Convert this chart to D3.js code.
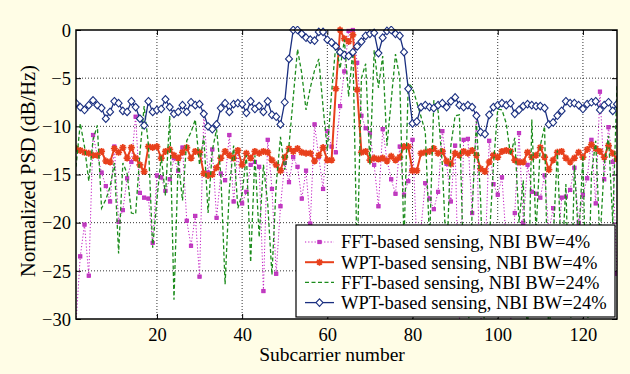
<!DOCTYPE html>
<html>
<head>
<meta charset="utf-8">
<script src="https://cdn.jsdelivr.net/npm/d3@7.9.0/dist/d3.min.js"></script>
<style>
  body { margin: 0; background: #fffde6; }
  svg text { font-family: "Liberation Serif", "Times New Roman", serif; fill: #000; }
</style>
</head>
<body>
<svg id="chart" width="630" height="374"></svg>
<script>
const subcarriers = d3.range(1, 129);
const xTicks = [20, 40, 60, 80, 100, 120];
const yTicks = [0, -5, -10, -15, -20, -25, -30];
const legendLabels = [
  'FFT-based sensing, NBI BW=4%',
  'WPT-based sensing, NBI BW=4%',
  'FFT-based sensing, NBI BW=24%',
  'WPT-based sensing, NBI BW=24%'
];

// FFT-based, NBI BW=4%
const fft4 = [
  -30.5, -23.5, -20.2, -25.5, -10.9, -13.0, -14.8, -16.2, -17.8, -12.1,
  -19.9, -18.7, -15.4, -13.7, -9.0, -16.9, -17.4, -17.5, -22.1, -15.1,
  -15.3, -16.7, -15.5, -13.3, -14.6, -12.2, -19.8, -22.4, -19.3, -25.6,
  -8.7, -14.8, -12.4, -19.5, -14.9, -15.6, -10.9, -17.8, -12.5, -18.0,
  -16.8, -14.0, -13.7, -14.2, -27.1, -11.4, -16.5, -25.3, -18.3, -13.8,
  -15.8, -13.2, -14.2, -17.5, -14.6, -20.1, -9.8, -13.2, -16.5, -10.5,
  -12.1, -12.7, -7.9, -4.3, -0.1, 0, -3.4, -8.9, -10.2, -10.7,
  -14.0, -18.3, -10.3, -13.5, -15.5, -17.0, -12.1, -17.1, -15.7, -11.4,
  -22.0, -20.5, -15.9, -17.5, -18.6, -16.8, -10.5, -13.9, -17.8, -12.0,
  -31.0, -11.4, -11.3, -19.0, -8.8, -31.0, -24.0, -11.5, -16.0, -17.1,
  -15.3, -22.0, -31.0, -19.0, -10.7, -20.0, -14.0, -16.8, -17.0, -17.4,
  -15.1, -21.0, -18.5, -24.0, -17.4, -17.3, -16.6, -14.3, -20.0, -17.1,
  -15.4, -11.4, -18.0, -6.4, -15.5, -10.1, -13.7, -25.3
];

// WPT-based, NBI BW=4%
const wpt4 = [
  -12.3, -12.5, -12.7, -12.8, -13.0, -13.0, -12.6, -13.6, -13.7, -12.3,
  -12.7, -12.2, -13.3, -12.2, -13.3, -14.0, -14.7, -12.1, -12.2, -12.1,
  -13.3, -12.6, -12.4, -13.0, -13.3, -12.7, -12.2, -13.3, -12.6, -12.7,
  -14.9, -15.1, -15.0, -14.3, -13.3, -12.6, -13.0, -13.3, -12.5, -14.0,
  -12.8, -13.3, -12.6, -12.8, -12.6, -12.7, -13.5, -14.0, -14.6, -13.2,
  -12.3, -12.6, -12.3, -12.7, -12.8, -12.8, -13.6, -13.0, -12.2, -13.5,
  -13.5, -6.1, 0, -0.9, -1.2, -0.5, -6.2, -12.7, -12.6, -13.5,
  -13.3, -13.4, -13.3, -13.6, -13.1, -13.5, -13.2, -12.1, -12.1, -14.6,
  -14.6, -12.8, -12.7, -12.6, -12.3, -12.8, -12.6, -13.6, -13.9, -12.8,
  -13.0, -12.6, -12.8, -12.5, -13.0, -14.4, -14.7, -13.7, -13.0, -13.2,
  -12.6, -12.5, -12.6, -13.5, -13.7, -13.7, -12.7, -13.2, -13.0, -12.2,
  -13.2, -14.5, -13.5, -12.7, -12.6, -13.3, -13.7, -13.3, -12.7, -13.2,
  -12.4, -11.9, -12.3, -12.6, -13.2, -12.0, -12.8, -13.4
];

// FFT-based, NBI BW=24%
const fft24 = [
  -14.2, -9.7, -12.1, -15.7, -11.4, -9.9, -18.5, -17.6, -16.3, -13.8,
  -23.2, -13.8, -14.9, -19.0, -19.1, -12.8, -7.9, -11.9, -22.6, -17.6,
  -13.1, -17.2, -8.9, -28.0, -13.5, -17.7, -11.5, -10.6, -9.3, -14.0,
  -11.0, -19.0, -12.5, -10.3, -15.0, -26.4, -16.5, -12.0, -18.5, -17.0,
  -13.0, -24.1, -13.0, -21.5, -14.0, -18.0, -25.4, -16.0, -11.1, -14.5,
  -12.0, -7.0, -2.0, -4.5, -8.3, -6.0, -4.2, -3.0, -8.0, -12.5,
  -6.5, -1.5, -4.0, -1.0, -6.9, -2.0, -24.0, -5.0, -3.5, -14.0,
  -2.1, -6.0, -2.7, -12.0, -7.3, -2.5, -5.0, -22.0, -5.5, -6.0,
  -7.5, -9.0, -10.6, -22.0, -7.3, -8.4, -14.0, -24.0, -12.0, -8.9,
  -8.8, -25.0, -33.0, -18.7, -9.5, -17.8, -33.0, -22.0, -14.0, -8.2,
  -8.3, -9.7, -13.0, -11.2, -20.0, -15.6, -33.0, -9.3, -21.0, -12.0,
  -10.0, -33.0, -22.0, -12.5, -25.0, -16.0, -33.0, -14.0, -22.0, -13.0,
  -33.0, -15.0, -11.5, -22.0, -14.0, -11.0, -20.0, -5.7
];

// WPT-based, NBI BW=24%
const wpt24 = [
  -7.6, -8.0, -8.3, -7.8, -7.3, -7.8, -8.1, -9.2, -8.5, -7.4,
  -7.6, -8.4, -8.5, -7.4, -8.0, -9.2, -9.9, -7.4, -8.5, -8.3,
  -8.2, -7.2, -8.0, -8.7, -8.5, -7.8, -8.5, -7.5, -7.8, -7.7,
  -8.7, -10.0, -10.3, -9.8, -8.1, -7.6, -8.5, -7.7, -7.6, -7.7,
  -8.6, -7.4, -8.2, -7.9, -8.5, -7.4, -8.8, -9.0, -9.8, -7.5,
  -3.0, 0, 0, -0.4, -0.8, -1.0, -1.1, -0.2, -0.2, -1.0,
  -1.3, -1.7, -2.3, -2.6, -2.7, -2.3, -1.7, -1.2, -0.6, -0.4,
  -0.3, -2.4, -0.8, -0.1, 0, -0.4, -0.6, -2.3, -6.1, -9.7,
  -9.5, -8.0, -7.8, -8.0, -8.1, -7.8, -7.6, -8.0, -7.4, -7.0,
  -7.8, -8.0, -7.8, -8.0, -8.9, -10.6, -10.8, -8.8, -8.0, -7.8,
  -7.6, -7.8, -7.6, -8.7, -8.3, -7.9, -7.7, -7.8, -7.9, -7.9,
  -8.1, -9.8, -9.6, -8.9, -8.4, -7.4, -7.6, -7.6, -7.8, -8.2,
  -7.7, -7.5, -7.4, -8.3, -7.8, -7.5, -8.4, -7.7
];

const margin = { left: 76, right: 13, top: 30, bottom: 55 };
const width = 630, height = 374;

const svg = d3.select('#chart');

const x = d3.scaleLinear().domain([1, 128]).range([margin.left, width - margin.right]);
const y = d3.scaleLinear().domain([-30, 0]).range([height - margin.bottom, margin.top]);

svg.append('rect')
  .attr('x', x(1)).attr('y', y(0))
  .attr('width', x(128) - x(1)).attr('height', y(-30) - y(0))
  .attr('fill', '#fff');

svg.append('clipPath').attr('id', 'clip')
  .append('rect')
  .attr('x', x(1)).attr('y', y(0) - 4)
  .attr('width', x(128) - x(1)).attr('height', y(-30) - y(0) + 4);

// dotted grid
const grid = svg.append('g').attr('stroke', '#000').attr('stroke-width', 0.8).attr('stroke-dasharray', '1,2');
xTicks.forEach((t) => {
  grid.append('line').attr('x1', x(t)).attr('x2', x(t)).attr('y1', y(0)).attr('y2', y(-30));
});
yTicks.slice(1, -1).forEach((t) => {
  grid.append('line').attr('x1', x(1)).attr('x2', x(128)).attr('y1', y(t)).attr('y2', y(t));
});

// axes with inward ticks
const xAxis = svg.append('g')
  .attr('transform', `translate(0,${y(-30)})`)
  .call(d3.axisBottom(x).tickValues(xTicks).tickSizeInner(-5).tickSizeOuter(0).tickPadding(9));
const yAxis = svg.append('g')
  .attr('transform', `translate(${x(1)},0)`)
  .call(d3.axisLeft(y).tickValues(yTicks).tickSizeInner(-5).tickSizeOuter(0).tickPadding(5)
    .tickFormat((d) => (d < 0 ? '\u2212' + Math.abs(d) : d)));
svg.append('g')
  .attr('transform', `translate(0,${y(0)})`)
  .call(d3.axisTop(x).tickValues(xTicks).tickSizeInner(-5).tickSizeOuter(0).tickFormat(''));
svg.append('g')
  .attr('transform', `translate(${x(128)},0)`)
  .call(d3.axisRight(y).tickValues(yTicks).tickSizeInner(-5).tickSizeOuter(0).tickFormat(''));

svg.selectAll('.domain').remove();
svg.selectAll('.tick line').attr('stroke', '#000');
xAxis.selectAll('text').attr('font-size', 18.5);
yAxis.selectAll('text').attr('font-size', 18.5).attr('dy', '0.34em');

// series
const series = [
  { values: fft4, color: '#c21cc2', width: 1, dash: '1.2,2', marker: 'xsq' },
  { values: wpt4, color: '#e8401c', width: 2, dash: null, marker: 'star' },
  { values: fft24, color: '#1c8c1c', width: 1.3, dash: '4,2.5', marker: null },
  { values: wpt24, color: '#1a2f80', width: 1.3, dash: null, marker: 'diamond' }
];

const line = d3.line().x((d, i) => x(subcarriers[i])).y((d) => y(d));

function drawMarker(g, type, color, cx, cy) {
  if (type === 'diamond') {
    g.append('path')
      .attr('d', `M${cx},${cy - 3.8}L${cx + 3.5},${cy}L${cx},${cy + 3.8}L${cx - 3.5},${cy}Z`)
      .attr('fill', '#fff').attr('stroke', color).attr('stroke-width', 1.1);
  } else if (type === 'star') {
    const r = 3.5, q = r * 0.7;
    g.append('path')
      .attr('d', `M${cx - r},${cy}L${cx + r},${cy}M${cx},${cy - r}L${cx},${cy + r}` +
        `M${cx - q},${cy - q}L${cx + q},${cy + q}M${cx - q},${cy + q}L${cx + q},${cy - q}`)
      .attr('stroke', color).attr('stroke-width', 1.7).attr('fill', 'none');
  } else if (type === 'xsq') {
    g.append('rect')
      .attr('x', cx - 1.7).attr('y', cy - 1.7).attr('width', 3.4).attr('height', 3.4)
      .attr('fill', '#b848b8').attr('stroke', color).attr('stroke-width', 0.8);
  }
}

const plot = svg.append('g').attr('clip-path', 'url(#clip)');
series.forEach((s) => {
  plot.append('path')
    .attr('d', line(s.values))
    .attr('fill', 'none')
    .attr('stroke', s.color)
    .attr('stroke-width', s.width)
    .attr('stroke-dasharray', s.dash);
  if (s.marker) {
    const mg = plot.append('g');
    s.values.forEach((v, i) => {
      if (v >= -30) drawMarker(mg, s.marker, s.color, x(subcarriers[i]), y(v));
    });
  }
});

// axes box
svg.append('rect')
  .attr('x', x(1)).attr('y', y(0))
  .attr('width', x(128) - x(1)).attr('height', y(-30) - y(0))
  .attr('fill', 'none').attr('stroke', '#000').attr('stroke-width', 1.5);

// legend
const lg = svg.append('g');
lg.append('rect')
  .attr('x', 296).attr('y', 225).attr('width', 319).attr('height', 92)
  .attr('fill', '#fff').attr('stroke', '#000').attr('stroke-width', 1.2);
legendLabels.forEach((label, i) => {
  const s = series[i];
  const cy = 242 + i * 20.2;
  lg.append('line')
    .attr('x1', 305).attr('x2', 334).attr('y1', cy).attr('y2', cy)
    .attr('stroke', s.color).attr('stroke-width', s.width).attr('stroke-dasharray', s.dash);
  if (s.marker) drawMarker(lg, s.marker, s.color, 319.5, cy);
  lg.append('text')
    .attr('x', 341).attr('y', cy).attr('dy', '0.35em')
    .attr('font-size', 18.5)
    .text(label);
});

// axis titles
svg.append('text')
  .attr('x', 332).attr('y', 361)
  .attr('text-anchor', 'middle').attr('font-size', 19.5)
  .text('Subcarrier number');
svg.append('text')
  .attr('transform', `translate(35,171) rotate(-90)`)
  .attr('text-anchor', 'middle').attr('font-size', 20.5)
  .text('Normalized PSD (dB/Hz)');
</script>
</body>
</html>
